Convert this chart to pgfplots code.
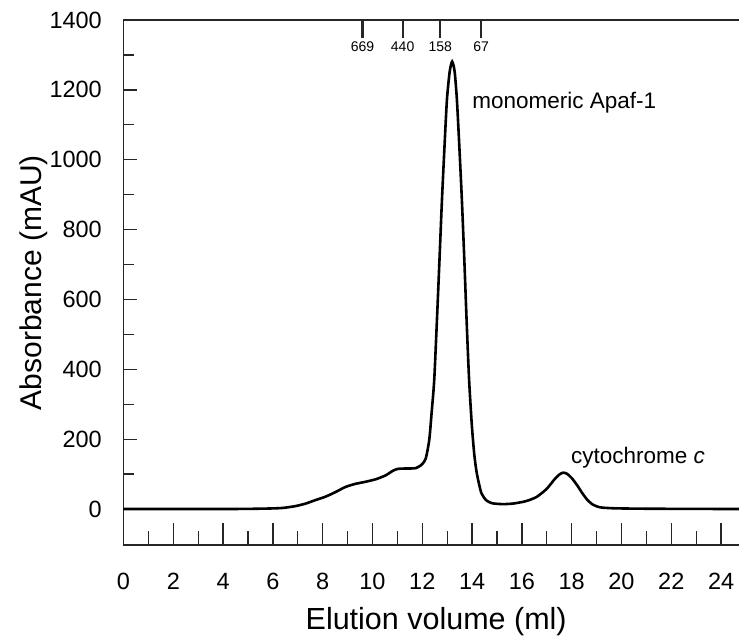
\documentclass[border=0pt]{standalone}
\usepackage{fontspec}
\setmainfont{Liberation Sans}
\usepackage{pgfplots}
\pgfplotsset{compat=1.18}
\begin{document}
\begin{tikzpicture}
\pgfplotsset{
  base/.style={
    scale only axis, width=615.5bp, height=525bp,
    xmin=0, xmax=24.72, ymin=-103, ymax=1400,
    anchor=south west, at={(0,0)},
    axis x line*=bottom, axis y line*=left,
    axis line style={line width=1.8bp, black!85},
    tick align=inside,
    every tick/.style={black!85, line width=1.3bp},
    /pgf/number format/assume math mode=true,
    /pgf/number format/1000 sep={},
    tick label style={font=\fontsize{23.5bp}{28bp}\selectfont, inner sep=0pt},
    clip=false,
  }
}
\begin{axis}[base,
  xtick={0,2,...,24}, minor xtick={1,3,...,23},
  major tick length=22bp, minor tick length=14bp,
  ytick=\empty,
  xticklabel style={yshift=-28bp},
  xlabel={Elution volume (ml)},
  xlabel style={at={(axis description cs:0.508,-0.16)}, anchor=base, inner sep=0pt, font=\fontsize{30.5bp}{34bp}\selectfont},
]
\end{axis}
\begin{axis}[base,
  ytick={0,200,...,1400}, minor ytick={100,300,...,1300},
  major tick length=13bp, minor tick length=10bp,
  xtick=\empty,
  yticklabel style={xshift=-21.5bp},
  ylabel={Absorbance (mAU)},
  ylabel style={at={(axis description cs:-0.134,0.5)}, anchor=base, inner sep=0pt, font=\fontsize{30bp}{34bp}\selectfont},
]
\addplot[black, line width=2.6bp, smooth, tension=0.4] coordinates {
(0,0) (2.02,0) (4.05,0) (5.06,0.5) (5.87,1.5) (6.38,3) (6.88,8) (7.29,15) (7.69,25) (8.10,35) (8.50,48) (8.91,63) (9.31,72) (9.72,78) (10.12,85) (10.52,96) (10.83,110) (11.03,115) (11.33,116) (11.74,117) (11.99,128) (12.14,145) (12.28,198) (12.38,280) (12.48,370) (12.60,560) (12.70,730) (12.79,885) (12.89,1035) (12.99,1172) (13.10,1252) (13.20,1281) (13.30,1252) (13.39,1172) (13.49,1035) (13.59,885) (13.69,710) (13.78,540) (13.88,370) (13.99,240) (14.09,155) (14.19,102) (14.37,46) (14.57,25) (14.78,17) (14.98,15) (15.28,14) (15.69,16) (16.19,23) (16.60,35) (17.00,58) (17.31,85) (17.51,99) (17.66,104) (17.81,101) (18.01,88) (18.22,68) (18.42,46) (18.62,27) (18.82,14) (19.03,7) (19.23,4) (19.73,2) (20.75,1) (22.26,0.5) (24.72,0)
};
\draw[line width=1.8bp, black!85] (rel axis cs:0,1) -- (rel axis cs:1,1);
\draw[line width=2.2bp, black!85] (axis cs:9.60,1400) -- ([yshift=-18bp]axis cs:9.60,1400) node[anchor=north, inner sep=0pt, yshift=-3bp, font=\fontsize{14bp}{16bp}\selectfont, black] {669};
\draw[line width=2.2bp, black!85] (axis cs:11.21,1400) -- ([yshift=-18bp]axis cs:11.21,1400) node[anchor=north, inner sep=0pt, yshift=-3bp, font=\fontsize{14bp}{16bp}\selectfont, black] {440};
\draw[line width=2.2bp, black!85] (axis cs:12.72,1400) -- ([yshift=-18bp]axis cs:12.72,1400) node[anchor=north, inner sep=0pt, yshift=-3bp, font=\fontsize{14bp}{16bp}\selectfont, black] {158};
\draw[line width=2.2bp, black!85] (axis cs:14.36,1400) -- ([yshift=-18bp]axis cs:14.36,1400) node[anchor=north, inner sep=0pt, yshift=-3bp, font=\fontsize{14bp}{16bp}\selectfont, black] {67};
\node[anchor=base west, inner sep=0pt, font=\fontsize{22.5bp}{26bp}\selectfont] at (axis cs:14.00,1148) {monomeric Apaf-1};
\node[anchor=base west, inner sep=0pt, font=\fontsize{22.5bp}{26bp}\selectfont] at (axis cs:17.97,129) {cytochrome \textit{c}};
\end{axis}
\pgfresetboundingbox
\useasboundingbox (-123.5bp,-97bp) rectangle (615.5bp,545bp);
\end{tikzpicture}
\end{document}
